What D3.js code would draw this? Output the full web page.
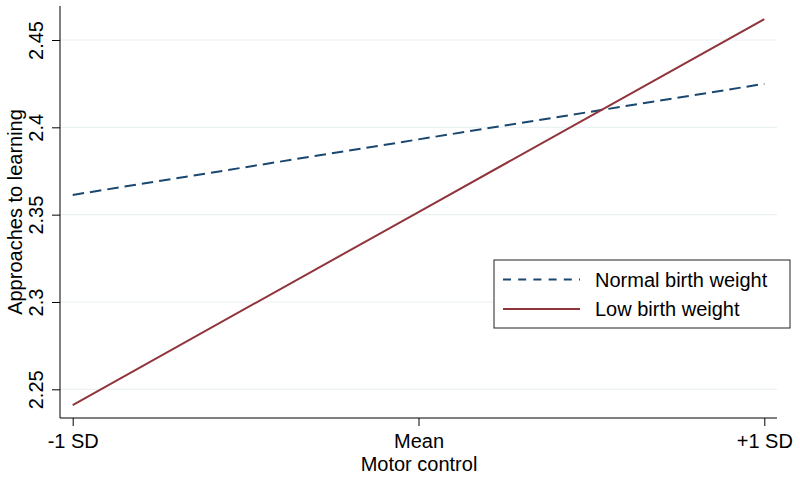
<!DOCTYPE html>
<html><head><meta charset="utf-8">
<script src="https://cdn.jsdelivr.net/npm/d3@7"></script>
<style>body{margin:0;background:#fff}text{font-family:"Liberation Sans",Arial,sans-serif;fill:#000}</style>
</head><body><svg id="c" width="800" height="477"></svg>
<script>
const categories = ["-1 SD", "Mean", "+1 SD"];
const normalBW = [2.3613, 2.3931, 2.4249];
const lowBW = [2.2410, 2.3515, 2.4619];
const yTicks = [2.25, 2.3, 2.35, 2.4, 2.45];
const seriesNames = ["Normal birth weight", "Low birth weight"];

const svg = d3.select("#c");
const x = d3.scalePoint().domain(categories).range([72.7, 764.3]);
const y = d3.scaleLinear().domain([2.25, 2.45]).range([389.3, 40]);
const x0 = 60, x1 = 777, yb = 418, yt = 6;
const FS = "20px";

// gridlines
svg.append("g").selectAll("line").data(yTicks).join("line")
  .attr("x1", x0).attr("x2", x1).attr("y1", d => y(d)).attr("y2", d => y(d))
  .attr("stroke", "#eaf2f3").attr("stroke-width", 1.2);

// y axis
const ya = svg.append("g").attr("transform", `translate(${x0},0)`)
  .call(d3.axisLeft(y).tickValues(yTicks).tickSize(8).tickFormat(d3.format("~g")));
ya.select(".domain").attr("d", `M0,${yt}V${yb}`).attr("stroke", "#000");
ya.selectAll(".tick line").attr("stroke", "#000");
ya.selectAll(".tick text").attr("transform", "rotate(-90)").attr("x", 0).attr("y", -17)
  .attr("dy", "0").attr("text-anchor", "middle").style("font-size", FS)
  .style("font-family", '"Liberation Sans",Arial,sans-serif');

// x axis
const xa = svg.append("g").attr("transform", `translate(0,${yb})`)
  .call(d3.axisBottom(x).tickSize(8));
xa.select(".domain").attr("d", `M${x0},0H${x1}`).attr("stroke", "#000");
xa.selectAll(".tick line").attr("stroke", "#000");
xa.selectAll(".tick text").attr("y", 30).attr("dy", "0").style("font-size", FS)
  .style("font-family", '"Liberation Sans",Arial,sans-serif');

// titles
svg.append("text").attr("x", 419).attr("y", 471).attr("text-anchor", "middle")
  .style("font-size", FS).text("Motor control");
svg.append("text").attr("transform", `translate(22,212) rotate(-90)`).attr("text-anchor", "middle")
  .style("font-size", FS).text("Approaches to learning");

const line = d3.line().x((d, i) => x(categories[i])).y(d => y(d));
svg.append("path").datum(normalBW).attr("d", line).attr("fill", "none")
  .attr("stroke", "#1a476f").attr("stroke-width", 2).attr("stroke-dasharray", "11.5,6");
svg.append("path").datum(lowBW).attr("d", line).attr("fill", "none")
  .attr("stroke", "#90353b").attr("stroke-width", 2);

// legend
const lg = svg.append("g");
lg.append("rect").attr("x", 494).attr("y", 260).attr("width", 296).attr("height", 68)
  .attr("fill", "#fff").attr("stroke", "#222").attr("stroke-width", 1);
const styles = [{c: "#1a476f", dash: "8,7.2"}, {c: "#90353b", dash: null}];
seriesNames.forEach((n, i) => {
  const yy = 279.5 + i * 29.5;
  lg.append("line").attr("x1", 503).attr("x2", 580).attr("y1", yy).attr("y2", yy)
    .attr("stroke", styles[i].c).attr("stroke-width", 1.8).attr("stroke-dasharray", styles[i].dash);
  lg.append("text").attr("x", 595).attr("y", yy + 7).style("font-size", FS).text(n);
});
</script></body></html>
